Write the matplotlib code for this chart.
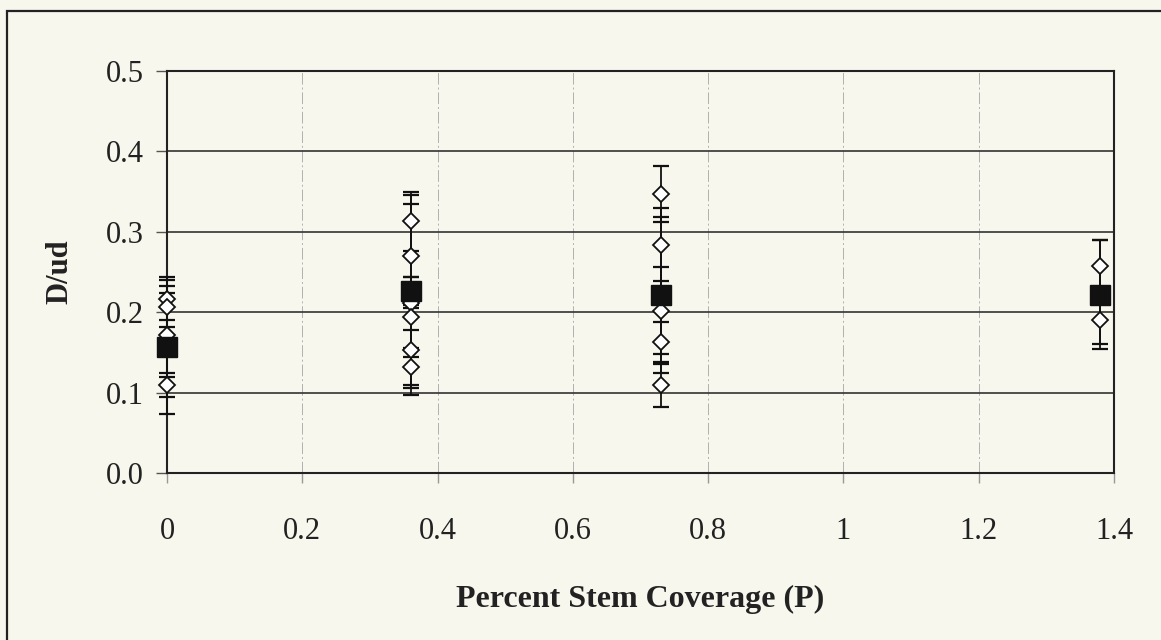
import numpy as np
import matplotlib.pyplot as plt
from matplotlib.patches import Rectangle
from matplotlib.ticker import FuncFormatter

# individual runs (open diamonds) with error bars
run_x = [0, 0, 0, 0,
         0.36, 0.36, 0.36, 0.36, 0.36, 0.36,
         0.73, 0.73, 0.73, 0.73, 0.73,
         1.38, 1.38]
run_y = [0.217, 0.207, 0.172, 0.109,
         0.313, 0.270, 0.211, 0.194, 0.153, 0.132,
         0.347, 0.284, 0.202, 0.163, 0.109,
         0.258, 0.190]
run_err = [0.027, 0.026, 0.052, 0.015,
           0.037, 0.065, 0.033, 0.050, 0.056, 0.023,
           0.035, 0.045, 0.054, 0.025, 0.027,
           0.032, 0.030]

# mean per coverage (filled squares)
mean_x = [0, 0.36, 0.73, 1.38]
mean_y = [0.157, 0.226, 0.221, 0.222]
mean_err = [0.083, 0.120, 0.097, 0.068]

bg = '#f7f7ee'
W, H = 1161, 640
fig = plt.figure(figsize=(11.61, 6.4), dpi=100, facecolor=bg)
plt.rcParams['font.family'] = ['Liberation Serif', 'DejaVu Serif']

# outer chart frame (only left/top visible in the scan)
fig.patches.append(Rectangle((7 / W, -0.1), 1.2, (640 - 11) / H + 0.1,
                             transform=fig.transFigure, fill=False,
                             edgecolor='#222222', lw=1.6))

ax = fig.add_axes([167 / W, (H - 473) / H, 947 / W, 402 / H])
ax.set_facecolor(bg)

for xs, ys, es in [(mean_x, mean_y, mean_err), (run_x, run_y, run_err)]:
    eb = ax.errorbar(xs, ys, yerr=es, fmt='none', ecolor='#111111',
                     elinewidth=1.3, capsize=6, capthick=1.6, zorder=3)
    for art in eb.lines[1] + eb.lines[2]:
        art.set_clip_on(False)
ax.plot(run_x, run_y, 'D', ms=8, mfc='white', mec='#111111', mew=1.3,
        ls='none', zorder=4, clip_on=False)
ax.plot(mean_x, mean_y, 's', ms=14, mfc='#111111', mec='#111111',
        ls='none', zorder=5, clip_on=False)

ax.set_xlim(0, 1.4)
ax.set_ylim(0, 0.5)
ax.set_xticks(np.arange(0, 1.41, 0.2))
ax.set_yticks(np.arange(0, 0.51, 0.1))
ax.xaxis.set_major_formatter(FuncFormatter(lambda v, p: '%g' % round(v, 2)))
ax.yaxis.set_major_formatter(FuncFormatter(lambda v, p: '%.1f' % v))

ax.grid(axis='y', color='#333333', lw=1.2)
ax.grid(axis='x', color='#b0b0b0', lw=0.7, ls=(0, (12, 3, 2, 3)))
ax.set_axisbelow(True)

for s in ax.spines.values():
    s.set_color('#222222')
    s.set_linewidth(1.5)

ax.tick_params(axis='y', direction='out', length=8, width=1, color='#555555',
               pad=9, labelsize=22, labelcolor='#222222')
ax.tick_params(axis='x', direction='out', length=7, width=1, color='#999999',
               pad=25, labelsize=22, labelcolor='#222222')

ax.set_xlabel('Percent Stem Coverage (P)', fontsize=23, fontweight='bold',
              color='#222222', labelpad=28)
ax.set_ylabel('D/ud', fontsize=22, fontweight='bold', color='#222222',
              labelpad=22)

fig.savefig('out.png', dpi=100, facecolor=bg)
